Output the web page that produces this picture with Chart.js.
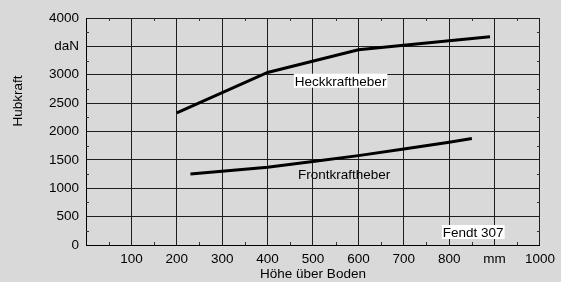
<!DOCTYPE html>
<html>
<head>
<meta charset="utf-8">
<script src="https://cdn.jsdelivr.net/npm/chart.js@4"></script>
<style>
  html, body { margin: 0; padding: 0; background: #d9d9d9; }
  #wrap { width: 561px; height: 282px; position: relative; }
</style>
</head>
<body>
<div id="wrap"><canvas id="chart"></canvas></div>
<script>
// Hubkraft (daN) über Hubhöhe (mm)
const heckHeight = [200, 400, 600, 700, 800, 890];
const heckForce = [2330, 3040, 3440, 3520, 3600, 3670];
const frontHeight = [230, 400, 500, 600, 700, 800, 850];
const frontForce = [1250, 1370, 1470, 1575, 1690, 1810, 1875];

const X_TICK_SPECIAL = { 0: "", 900: "mm" };
const Y_TICK_SPECIAL = { 3500: "daN" };

const FONT = "'Liberation Sans', Arial, sans-serif";
const FS = 13.5;

function pts(xs, ys) {
  return xs.map((x, i) => ({ x: x, y: ys[i] }));
}

// Beschriftungen im Diagramm (Lage in Datenkoordinaten)
const notes = [
  { text: "Heckkraftheber", x: 460, y: 2807, box: true },
  { text: "Frontkraftheber", x: 467, y: 1163, box: false },
  { text: "Fendt 307", x: 786, y: 141, box: true },
];

const extras = {
  id: "extras",
  beforeDatasetsDraw(chart) {
    // kleine Zwischenstriche an den Rahmenkanten
    const { ctx, chartArea: a, scales: { x, y } } = chart;
    ctx.save();
    ctx.strokeStyle = "#333";
    ctx.lineWidth = 1;
    ctx.beginPath();
    for (let v = 50; v < 1000; v += 100) {
      const px = Math.round(x.getPixelForValue(v)) + 0.5;
      ctx.moveTo(px, a.top); ctx.lineTo(px, a.top + 3);
      ctx.moveTo(px, a.bottom); ctx.lineTo(px, a.bottom - 3);
    }
    for (let v = 250; v < 4000; v += 500) {
      const py = Math.round(y.getPixelForValue(v)) + 0.5;
      ctx.moveTo(a.left, py); ctx.lineTo(a.left + 3, py);
      ctx.moveTo(a.right, py); ctx.lineTo(a.right - 3, py);
    }
    ctx.stroke();
    ctx.restore();
  },
  afterDatasetsDraw(chart) {
    const { ctx, scales: { x, y } } = chart;
    ctx.save();
    ctx.font = FS + "px " + FONT;
    ctx.textBaseline = "alphabetic";
    notes.forEach((n) => {
      const px = x.getPixelForValue(n.x);
      const py = y.getPixelForValue(n.y);
      const w = ctx.measureText(n.text).width;
      if (n.box) {
        ctx.fillStyle = "#ffffff";
        ctx.fillRect(px - 1, py - 12, w + 2, 14);
      }
      ctx.fillStyle = "#000000";
      ctx.fillText(n.text, px, py);
    });
    // Achsentitel der y-Achse
    ctx.translate(18, 101);
    ctx.rotate(-Math.PI / 2);
    ctx.textAlign = "center";
    ctx.textBaseline = "middle";
    ctx.fillText("Hubkraft", 0, 0);
    ctx.restore();
  },
};

new Chart(document.getElementById("chart"), {
  type: "line",
  data: {
    datasets: [
      {
        label: "Heckkraftheber",
        data: pts(heckHeight, heckForce),
        borderColor: "#000",
        borderWidth: 3,
        pointRadius: 0,
        tension: 0,
      },
      {
        label: "Frontkraftheber",
        data: pts(frontHeight, frontForce),
        borderColor: "#000",
        borderWidth: 3,
        pointRadius: 0,
        tension: 0,
      },
    ],
  },
  options: {
    responsive: true,
    maintainAspectRatio: false,
    animation: false,
    layout: { padding: { top: 18, right: 20, left: 0, bottom: 0 } },
    plugins: { legend: { display: false }, tooltip: { enabled: false } },
    scales: {
      x: {
        type: "linear",
        min: 0, max: 1000,
        afterFit: (s) => { s.height = 37; },
        ticks: {
          stepSize: 100,
          maxRotation: 0,
          autoSkip: false,
          padding: 6,
          color: "#000",
          font: { family: FONT, size: FS },
          callback: (v) => (v in X_TICK_SPECIAL ? X_TICK_SPECIAL[v] : String(v)),
        },
        grid: { color: "#1e1e1e", lineWidth: 1, drawTicks: false },
        border: { color: "#000", width: 1 },
        title: {
          display: true,
          text: "Höhe über Boden",
          color: "#000",
          font: { family: FONT, size: FS },
          padding: { top: 0, bottom: 0 },
        },
      },
      y: {
        min: 0, max: 4000,
        afterFit: (s) => { s.width = 86; },
        ticks: {
          stepSize: 500,
          autoSkip: false,
          padding: 7,
          color: "#000",
          font: { family: FONT, size: FS },
          callback: (v) => (v in Y_TICK_SPECIAL ? Y_TICK_SPECIAL[v] : String(v)),
        },
        grid: { color: "#1e1e1e", lineWidth: 1, drawTicks: false },
        border: { color: "#000", width: 1 },
      },
    },
  },
  plugins: [extras],
});
</script>
</body>
</html>
